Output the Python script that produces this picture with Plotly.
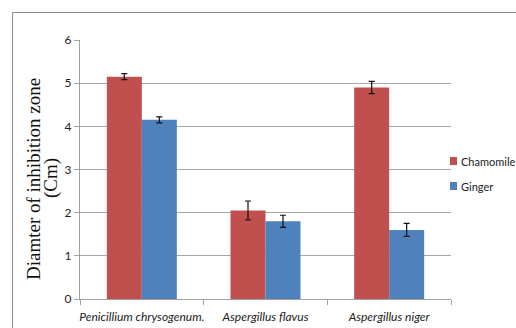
import plotly.graph_objects as go

categories = ["Penicillium chrysogenum.", "Aspergillus flavus", "Aspergillus niger"]
chamomile = [5.15, 2.05, 4.9]
chamomile_err = [0.07, 0.22, 0.14]
ginger = [4.15, 1.8, 1.6]
ginger_err = [0.07, 0.14, 0.15]
y_ticks = [0, 1, 2, 3, 4, 5, 6]

W, H = 516, 328
PL, PR, PT, PB = 80, 451, 40, 299  # plot area in pixels
L, T = PL, PT
R, B = W - PR, H - PB
pw, ph = PR - PL, PB - PT

def px(x):
    return (x - PL) / pw

def py(y):
    return (PB - y) / ph

tick_font = dict(family="Lato, Open Sans, sans-serif", size=12, color="#222")

fig = go.Figure()
fig.add_trace(go.Bar(
    name="Chamomile", x=categories, y=chamomile,
    marker=dict(color="#C0504D", line=dict(width=0)),
    error_y=dict(type="data", array=chamomile_err, color="#111", thickness=1.2, width=3),
))
fig.add_trace(go.Bar(
    name="Ginger", x=categories, y=ginger,
    marker=dict(color="#4F81BD", line=dict(width=0)),
    error_y=dict(type="data", array=ginger_err, color="#111", thickness=1.2, width=3),
))

fig.update_layout(
    width=W, height=H,
    margin=dict(l=L, r=R, t=T, b=B, pad=0, autoexpand=False),
    paper_bgcolor="white", plot_bgcolor="white",
    barmode="group", bargap=0.434, bargroupgap=0,
    showlegend=False,
    xaxis=dict(
        type="category", showgrid=False, zeroline=False, automargin=False,
        showline=True, linecolor="#a0a0a0", linewidth=1.3, tickangle=0,
        ticks="outside", tickson="boundaries", ticklen=5, tickcolor="#a0a0a0",
        ticklabelstandoff=6,
        tickfont=dict(family="Lato, Open Sans, sans-serif", size=12, color="#222", style="italic"),
    ),
    yaxis=dict(
        range=[0, 6], tickvals=y_ticks, showgrid=True, gridcolor="#a6a6a6", gridwidth=1.3,
        zeroline=False, showline=True, linecolor="#a0a0a0", linewidth=1.3, automargin=False,
        ticks="outside", ticklen=5, tickcolor="#a0a0a0", tickfont=tick_font,
    ),
)

# outer chart border
fig.add_shape(type="rect", xref="paper", yref="paper",
              x0=px(12.5), x1=px(560), y0=py(360), y1=py(12.5),
              line=dict(color="#8c8c8c", width=1), fillcolor="rgba(0,0,0,0)", layer="below")

# axis title (two lines)
title_font = dict(family="Liberation Serif, Times New Roman, serif", size=19, color="#111")
fig.add_annotation(text="Diamter of inhibition zone", xref="paper", yref="paper",
                   x=px(33), y=py(179), textangle=-90, showarrow=False, font=title_font,
                   xanchor="center", yanchor="middle")
fig.add_annotation(text="(Cm)", xref="paper", yref="paper",
                   x=px(51), y=py(178), textangle=-90, showarrow=False, font=title_font,
                   xanchor="center", yanchor="middle")

# legend
legend_items = [("Chamomile", "#C0504D", 161), ("Ginger", "#4F81BD", 186)]
for name, color, cy in legend_items:
    fig.add_shape(type="rect", xref="paper", yref="paper",
                  x0=px(450), x1=px(457), y0=py(cy + 4), y1=py(cy - 4),
                  line=dict(width=0), fillcolor=color)
    fig.add_annotation(text=name, xref="paper", yref="paper", x=px(459), y=py(cy),
                       showarrow=False, xanchor="left", yanchor="middle",
                       font=dict(family="Lato, Open Sans, sans-serif", size=11, color="#222"))

fig.write_html(
    "out.html",
    config=dict(displayModeBar=False),
    post_script="document.body.style.margin='0';document.body.style.overflow='hidden';",
)
